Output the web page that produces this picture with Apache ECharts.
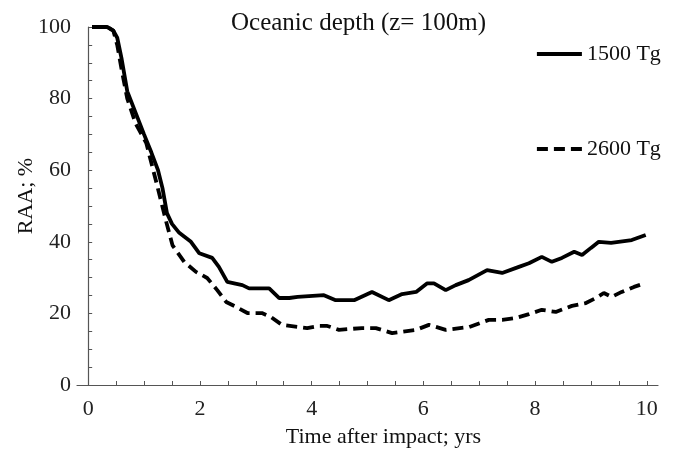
<!DOCTYPE html>
<html>
<head>
<meta charset="utf-8">
<script src="https://cdn.jsdelivr.net/npm/echarts@6/dist/echarts.min.js"></script>
<style>
  html, body { margin: 0; padding: 0; background: #fff; }
  #chart { width: 673px; height: 449px; }
</style>
</head>
<body>
<div id="chart"></div>
<script>
// time after impact (yrs) and RAA (%)
const solidX = [0.07, 0.34, 0.45, 0.52, 0.6, 0.7, 0.85, 1.0, 1.13, 1.25, 1.33, 1.41, 1.5, 1.63, 1.84, 1.99, 2.22, 2.34, 2.49, 2.76, 2.88, 3.24, 3.42, 3.6, 3.75, 4.22, 4.43, 4.76, 5.08, 5.38, 5.62, 5.87, 6.07, 6.19, 6.4, 6.58, 6.81, 7.14, 7.41, 7.71, 7.89, 8.12, 8.3, 8.48, 8.7, 8.84, 9.0, 9.14, 9.36, 9.73, 9.98]
const solidY = [100, 100, 99, 97, 91, 82, 76, 70, 65, 60, 55, 48, 45, 42.5, 40, 36.8, 35.5, 33, 28.8, 27.9, 27, 27, 24.3, 24.3, 24.6, 25.1, 23.7, 23.7, 26, 23.7, 25.4, 26, 28.4, 28.4, 26.5, 27.9, 29.3, 32.1, 31.3, 33, 34, 35.8, 34.4, 35.5, 37.2, 36.3, 38.3, 40, 39.7, 40.5, 41.9]
const dashX = [0.07, 0.34, 0.45, 0.52, 0.6, 0.7, 0.85, 1.04, 1.24, 1.39, 1.51, 1.72, 1.93, 2.13, 2.31, 2.47, 2.65, 2.85, 3.11, 3.27, 3.47, 3.77, 3.92, 4.13, 4.28, 4.49, 4.9, 5.15, 5.44, 5.87, 6.1, 6.4, 6.82, 7.17, 7.41, 7.65, 7.89, 8.12, 8.37, 8.66, 8.91, 9.09, 9.23, 9.37, 9.55, 9.77, 9.98]
const dashY = [100, 100, 99, 95, 88, 80, 73, 67.6, 55.4, 46, 39, 34.4, 31.6, 29.9, 26.5, 23.2, 21.8, 20.1, 20.1, 19, 16.8, 16.2, 15.9, 16.5, 16.5, 15.4, 15.9, 15.9, 14.5, 15.4, 16.8, 15.4, 16.2, 18.2, 18.2, 18.7, 19.8, 21, 20.4, 22.1, 22.9, 24.3, 25.7, 24.6, 26, 27.4, 28.5]
const seriesNames = ['1500 Tg', '2600 Tg']
const xLabels = [0, 2, 4, 6, 8, 10]
const xTicks = [0, 0.5, 1, 1.5, 2, 2.5, 3, 3.5, 4, 4.5, 5, 5.5, 6, 6.5, 7, 7.5, 8, 8.5, 9, 9.5, 10]
const yLabels = [0, 20, 40, 60, 80, 100]
const yTicks = [0, 5, 10, 15, 20, 25, 30, 35, 40, 45, 50, 55, 60, 65, 70, 75, 80, 85, 90, 95, 100]

const serif = 'Liberation Serif'
const pairs = (xs, ys) => xs.map((x, i) => [x, ys[i]])

const option = {
  animation: false,
  title: {
    text: 'Oceanic depth (z= 100m)',
    left: 226,
    top: 6,
    textStyle: { fontFamily: serif, fontWeight: 'normal', fontSize: 25, color: '#111' }
  },
  legend: {
    orient: 'vertical',
    left: 530,
    top: 38,
    itemWidth: 45,
    itemHeight: 14,
    itemGap: 73,
    itemStyle: { opacity: 0 },
    lineStyle: { width: 3.8 },
    textStyle: { fontFamily: serif, fontSize: 22, color: '#111', padding: [0, 0, 0, 0] },
    data: seriesNames
  },
  grid: { left: 77, right: 15, top: 27, bottom: 64, outerBoundsMode: 'none' },
  xAxis: {
    type: 'value',
    min: -0.2,
    max: 10.2,
    name: 'Time after impact; yrs',
    nameLocation: 'middle',
    nameGap: 41,
    nameMoveOverlap: false,
    nameTextStyle: { fontFamily: serif, fontSize: 22, color: '#111', padding: [0, 0, 0, 32] },
    axisLine: { lineStyle: { color: '#555', width: 1.2 } },
    axisTick: { inside: true, length: 4, customValues: xTicks, lineStyle: { color: '#555' } },
    axisLabel: { customValues: xLabels, fontFamily: serif, fontSize: 22, color: '#222', margin: 13 },
    splitLine: { show: false }
  },
  yAxis: {
    type: 'value',
    min: 0,
    max: 100,
    name: 'RAA; %',
    nameLocation: 'middle',
    nameGap: 40,
    nameMoveOverlap: false,
    nameTextStyle: { fontFamily: serif, fontSize: 22, color: '#111', padding: [0, 0, 0, 20] },
    axisLine: { show: true, lineStyle: { color: '#555', width: 1.2 } },
    axisTick: { show: true, inside: true, length: 4, customValues: yTicks, lineStyle: { color: '#555' } },
    axisLabel: { customValues: yLabels, fontFamily: serif, fontSize: 22, color: '#222', margin: 6 },
    splitLine: { show: false }
  },
  series: [
    {
      name: seriesNames[0],
      type: 'line',
      symbol: 'none',
      data: pairs(solidX, solidY),
      lineStyle: { color: '#000', width: 3.8 },
      itemStyle: { color: '#000' }
    },
    {
      name: seriesNames[1],
      type: 'line',
      symbol: 'none',
      data: pairs(dashX, dashY),
      lineStyle: { color: '#000', width: 3.8, type: [11, 6] },
      itemStyle: { color: '#000' }
    }
  ]
}

const chart = echarts.init(document.getElementById('chart'))
chart.setOption(option)
</script>
</body>
</html>
